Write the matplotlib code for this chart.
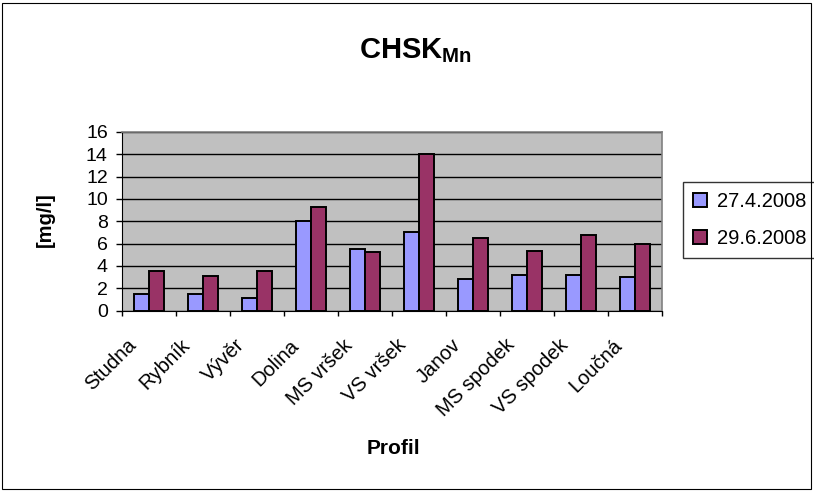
import matplotlib
matplotlib.use("Agg")
import matplotlib.pyplot as plt
import matplotlib.transforms as mtransforms
import numpy as np
from matplotlib.patches import Rectangle

categories = ["Studna", "Rybník", "Vývěr", "Dolina", "MS vršek", "VS vršek",
              "Janov", "MS spodek", "VS spodek", "Loučná"]
series_labels = ["27.4.2008", "29.6.2008"]
values_apr = [1.5, 1.5, 1.1, 8.0, 5.5, 7.0, 2.8, 3.2, 3.2, 3.0]
values_jun = [3.5, 3.1, 3.5, 9.3, 5.2, 14.0, 6.5, 5.35, 6.8, 5.95]
yticks = [0, 2, 4, 6, 8, 10, 12, 14, 16]

plt.rcParams['font.family'] = ['Liberation Sans', 'DejaVu Sans']
plt.rcParams['mathtext.fontset'] = 'custom'
plt.rcParams['mathtext.rm'] = 'Liberation Sans'
plt.rcParams['mathtext.bf'] = 'Liberation Sans:bold'

fig = plt.figure(figsize=(8.14, 4.91), dpi=100)
ax = fig.add_axes([121.7/814, 1-310.5/491, (661.7-121.7)/814, (310.5-132)/491])
ax.set_facecolor('#C0C0C0')

x = np.arange(len(categories))
w = 0.28
ax.bar(x - w/2, values_apr, w, color='#9999FF', edgecolor='black', linewidth=1.4,
       label=series_labels[0], zorder=3)
ax.bar(x + w/2, values_jun, w, color='#993366', edgecolor='black', linewidth=1.4,
       label=series_labels[1], zorder=3)

ax.set_xlim(-0.5, len(categories) - 0.5)
ax.set_ylim(0, 16)
ax.set_yticks(yticks)
ax.set_yticklabels([str(t) for t in yticks], fontsize=14)
ax.yaxis.grid(True, color='black', linewidth=1.0, zorder=1)
ax.set_axisbelow(True)

ax.set_xticks(np.arange(len(categories) + 1) - 0.5)
ax.set_xticklabels([])
ax.tick_params(axis='x', which='major', length=3.6, direction='out', width=1)
ax.tick_params(axis='y', length=4, direction='out', width=1, pad=6)

# category labels: rotated, anchored at their top-right corner
lab_tr = ax.get_xaxis_transform() + mtransforms.ScaledTranslation(
    -22/100, -25/100, fig.dpi_scale_trans)
for xi, name in zip(x, categories):
    ax.text(xi, 0, name, transform=lab_tr, rotation=45, ha='right', va='top',
            rotation_mode='anchor', fontsize=14.5, clip_on=False)

for s in ['top', 'right']:
    ax.spines[s].set_color('#808080')
    ax.spines[s].set_linewidth(1.2)
ax.spines['left'].set_color('black')
ax.spines['bottom'].set_color('black')

fig.text(45/814, 1-220/491, '[mg/l]', fontsize=14.5, fontweight='bold',
         rotation=90, ha='center', va='center')
fig.text(393/814, 1-449/491, 'Profil', fontsize=15, fontweight='bold',
         ha='center', va='center')
fig.text(415/814, 1-51/491, r'$\mathbf{CHSK_{Mn}}$', fontsize=21,
         ha='center', va='center')

leg = ax.legend(loc='center left', bbox_to_anchor=(683/814, 1-220/491),
                bbox_transform=fig.transFigure, frameon=True, fancybox=False,
                fontsize=14.5, handlelength=0.7, handleheight=0.7,
                handletextpad=0.5, borderpad=0.5, labelspacing=0.9,
                borderaxespad=0, edgecolor='black')
leg.get_frame().set_linewidth(1.0)

fig.patches.append(Rectangle((2/814, 2/491), 809/814, 486/491, fill=False,
                             edgecolor='black', linewidth=0.8,
                             transform=fig.transFigure, figure=fig))

fig.savefig('out.png', dpi=100)
